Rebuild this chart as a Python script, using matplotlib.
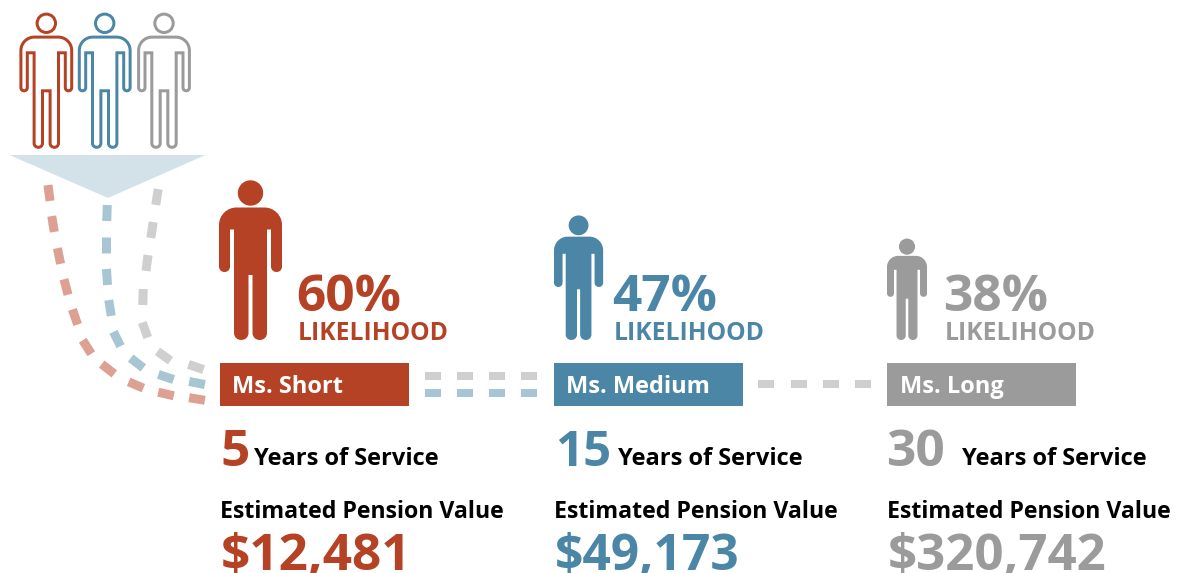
import numpy as np
import matplotlib
matplotlib.use('Agg')
import matplotlib.pyplot as plt
from matplotlib.path import Path
from matplotlib.patches import PathPatch, Circle, Polygon, Rectangle

plt.rcParams['font.family'] = ['Open Sans', 'DejaVu Sans']

names = ['Ms. Short', 'Ms. Medium', 'Ms. Long']
likelihood = [60, 47, 38]
years = [5, 15, 30]
pension = [12481, 49173, 320742]

colors = ['#b54224', '#4b86a6', '#9b9b9b']
light = ['#dda193', '#a8c5d4', '#cfcfcf']

# layout per column, in pixels
col_x = [220, 554, 887]
icon_x = [219, 554, 887]
pct_x = [296, 612, 943]
lik_x = [298, 614, 945]
years_x = [254, 618, 962]
num_x = [220, 555, 886]
num_size = [37, 35.5, 37]
value_size = [37, 35.8, 36.7]
solid_scale = [1.0, 0.78, 0.635]
solid_w = 63

# dash centres of the three curves leading from the funnel
red_dashes = [(49, 193), (53, 224), (59, 256), (66, 287), (75, 317), (87, 347),
              (108, 369), (136, 385), (166, 394), (197, 399)]
blue_dashes = [(107, 213), (106, 245), (107, 277), (110, 308), (117, 339),
               (137, 363), (166, 377), (197, 383)]
gray_dashes = [(157, 197), (152, 230), (147, 263), (143, 297), (145, 330),
               (164, 356), (196, 367)]

px = 72 / 100

fig = plt.figure(figsize=(11.77, 5.73), dpi=100)
ax = fig.add_axes([0, 0, 1, 1])
ax.set_xlim(0, 1177)
ax.set_ylim(573, 0)
ax.axis('off')


def body_path(cx, top, s, torso, arm_in, arm_out, leg_in, shoulder, armpit, arm_end, crotch, bottom, corner):
    # one closed outline, dy measured from the top of the head
    def P(x, y):
        return (cx + x * s, top + y * s)

    verts, codes = [P(-corner, shoulder)], [Path.MOVETO]

    def line(x, y):
        verts.append(P(x, y))
        codes.append(Path.LINETO)

    def curve(x1, y1, x2, y2, x3, y3):
        verts.extend([P(x1, y1), P(x2, y2), P(x3, y3)])
        codes.extend([Path.CURVE4] * 3)

    def round_end(a, b, y):
        r = abs(a - b) / 2
        curve(a, y - r + r * 4 / 3, b, y - r + r * 4 / 3, b, y - r)

    k = arm_out - corner
    line(corner, shoulder)
    curve(corner + k * .55, shoulder, arm_out, shoulder + k * .45, arm_out, shoulder + k)
    line(arm_out, arm_end - (arm_out - arm_in) / 2)
    round_end(arm_out, arm_in, arm_end)
    line(arm_in, armpit)
    line(torso, armpit)
    line(torso, bottom - (torso - leg_in) / 2)
    round_end(torso, leg_in, bottom)
    line(leg_in, crotch)
    line(-leg_in, crotch)
    line(-leg_in, bottom - (torso - leg_in) / 2)
    round_end(-leg_in, -torso, bottom)
    line(-torso, armpit)
    line(-arm_in, armpit)
    line(-arm_in, arm_end - (arm_out - arm_in) / 2)
    round_end(-arm_in, -arm_out, arm_end)
    line(-arm_out, shoulder + k)
    curve(-arm_out, shoulder + k * .45, -corner - k * .55, shoulder, -corner, shoulder)
    verts.append(P(-corner, shoulder))
    codes.append(Path.CLOSEPOLY)
    return Path(verts, codes)


# outlined people at top left
for cx, c in zip([46.3, 104.7, 164], colors):
    ax.add_patch(Circle((cx, 23.3), 9.2, fc='white', ec=c, lw=3 * px))
    p = body_path(cx, 13.3, 1, 12.2, 19, 25.4, 3.8, 23.8, 39.5, 77.5, 77.5, 134, 12)
    ax.add_patch(PathPatch(p, fc='white', ec=c, lw=3 * px, joinstyle='miter'))

ax.add_patch(Polygon([(9.5, 155), (205.5, 155), (108, 198)], fc='#d3e2e9', ec='none'))

# curved dashes
for pts, c in zip([red_dashes, blue_dashes, gray_dashes], light):
    pts = np.array(pts, dtype=float)
    for i in range(len(pts)):
        a = pts[max(i - 1, 0)]
        b = pts[min(i + 1, len(pts) - 1)]
        d = (b - a) / np.hypot(*(b - a))
        ax.plot(*zip(pts[i] - d * 8, pts[i] + d * 8), color=c, lw=9 * px, solid_capstyle='butt')

# straight dashes between the boxes
for x0 in [425, 457, 489, 521]:
    ax.add_patch(Rectangle((x0, 372), 16, 8.3, fc=light[2], ec='none'))
    ax.add_patch(Rectangle((x0, 389), 16, 8.3, fc=light[1], ec='none'))
for x0 in [758, 790.5, 823, 855]:
    ax.add_patch(Rectangle((x0, 380), 16, 8.3, fc=light[2], ec='none'))

for i in range(3):
    c = colors[i]
    x = col_x[i]
    s = solid_scale[i]
    top = 340 - 160 * s
    cx = icon_x[i] + solid_w * s / 2
    ax.add_patch(Circle((cx, top + 13 * s), 12.7 * s, fc=c, ec='none'))
    p = body_path(cx, top, s, 16.5, 20.5, 31.5, 2, 27.5, 49.5, 92, 95, 160, 14)
    ax.add_patch(PathPatch(p, fc=c, ec='none'))

    ax.text(pct_x[i], 311, f'{likelihood[i]}%', color=c, fontsize=37, fontweight='bold', va='baseline')
    ax.text(lik_x[i], 340, 'LIKELIHOOD', color=c, fontsize=17.7, fontweight='bold', va='baseline')

    ax.add_patch(Rectangle((x, 363), 189, 43, fc=c, ec='none'))
    ax.text(x + 12.5, 393, names[i], color='white', fontsize=17, fontweight='bold', va='baseline')

    ax.text(num_x[i], 466, str(years[i]), color=c, fontsize=num_size[i], fontweight='bold', va='baseline')
    ax.text(years_x[i], 465, 'Years of Service', color='black', fontsize=17, fontweight='bold', va='baseline')
    ax.text(x, 518, 'Estimated Pension Value', color='black', fontsize=16.65, fontweight='bold', va='baseline')
    ax.text(x + 1, 570, f'${pension[i]:,}', color=c, fontsize=value_size[i], fontweight='bold', va='baseline')

fig.savefig('out.png', dpi=100)
